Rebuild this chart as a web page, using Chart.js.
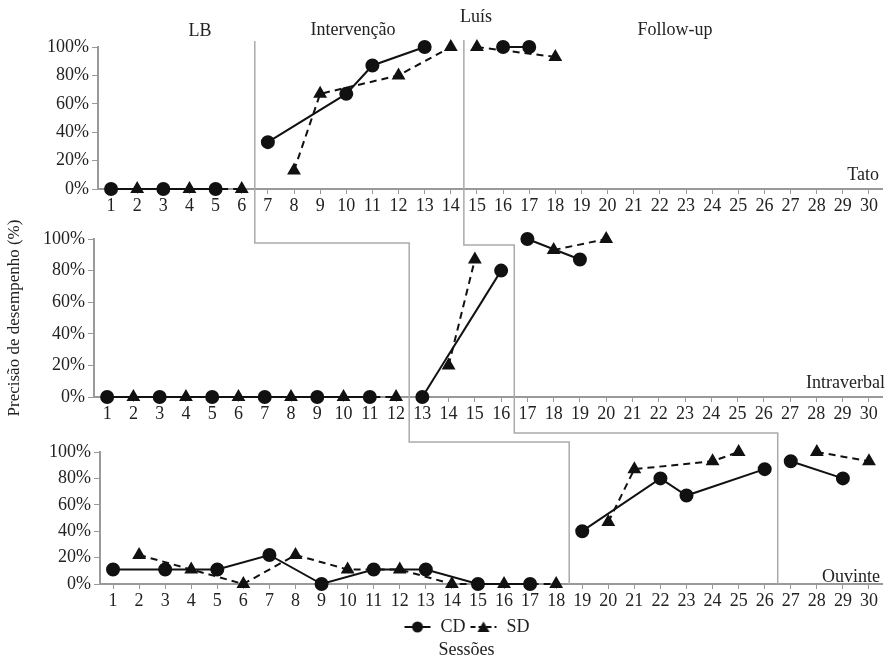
<!DOCTYPE html>
<html>
<head>
<meta charset="utf-8">
<script src="https://cdn.jsdelivr.net/npm/chart.js@4.4.0/dist/chart.umd.min.js"></script>
<style>
  body { margin: 0; background: #fff; }
  #wrap { position: relative; width: 890px; height: 657px; font-family: "Liberation Serif", "Times New Roman", serif; color: #222; }
  canvas { position: absolute; left: 0; }
  .lbl { position: absolute; font-size: 18px; line-height: 1; white-space: nowrap; transform: translateX(-50%); }
  .rt { position: absolute; font-size: 18px; line-height: 1; white-space: nowrap; transform: translateX(-100%); }
</style>
</head>
<body>
<div id="wrap">
  <canvas id="c1" width="890" height="216" style="top:0"></canvas>
  <canvas id="c2" width="890" height="210" style="top:216px"></canvas>
  <canvas id="c3" width="890" height="231" style="top:426px"></canvas>
  <canvas id="ov" width="890" height="657" style="top:0;pointer-events:none"></canvas>

  <div class="lbl" style="left:200px;top:21px">LB</div>
  <div class="lbl" style="left:353px;top:20px">Intervenção</div>
  <div class="lbl" style="left:476px;top:7px">Luís</div>
  <div class="lbl" style="left:675px;top:20px">Follow-up</div>
  <div class="rt" style="left:879px;top:165px">Tato</div>
  <div class="rt" style="left:885px;top:373px">Intraverbal</div>
  <div class="rt" style="left:880px;top:567px">Ouvinte</div>
</div>

<script>
// sessions 1..30
const sessions = ["1","2","3","4","5","6","7","8","9","10","11","12","13","14","15",
                  "16","17","18","19","20","21","22","23","24","25","26","27","28","29","30"];

// Tato
const tatoCD = [0,null,0,null,0,null,33,null,null,67,87,null,100,null,null,100,100,null,
                null,null,null,null,null,null,null,null,null,null,null,null];
const tatoSD = [null,0,null,0,null,0,null,13,67,null,null,80,null,100,100,null,null,93,
                null,null,null,null,null,null,null,null,null,null,null,null];
const tatoPhases = [6.5, 14.5];

// Intraverbal
const intraCD = [0,null,0,null,0,null,0,null,0,null,0,null,0,null,null,80,100,null,87,
                 null,null,null,null,null,null,null,null,null,null,null];
const intraSD = [null,0,null,0,null,0,null,0,null,0,null,0,null,20,87,null,null,93,null,100,
                 null,null,null,null,null,null,null,null,null,null];
const intraPhases = [12.5, 16.5];

// Ouvinte
const ouvCD = [11,null,11,null,11,null,22,null,0,null,11,null,11,null,0,null,0,null,40,
               null,null,80,67,null,null,87,93,null,80,null];
const ouvSD = [null,22,null,11,null,0,null,22,null,11,null,11,null,0,null,0,null,0,null,
               47,87,null,null,93,100,null,null,100,null,93];
const ouvPhases = [18.5, 26.5];

const FONT = "'Liberation Serif', 'Times New Roman', serif";
const INK = "#111";
const TXT = "#222";
const AXIS = "#999";

// split a series into one array per phase, so lines break at phase changes
function byPhase(data, phases) {
  const edges = [0, ...phases, 31];
  return edges.slice(1).map((hi, k) =>
    data.map((v, i) => (i + 1 > edges[k] && i + 1 < hi) ? v : null));
}

// small legend images: line with marker
function legendImg(style, dashed) {
  const c = document.createElement("canvas");
  c.width = 28; c.height = 14;
  const g = c.getContext("2d");
  g.strokeStyle = INK; g.fillStyle = INK; g.lineWidth = 2;
  if (dashed) g.setLineDash([5, 3]);
  g.beginPath(); g.moveTo(1, 7); g.lineTo(27, 7); g.stroke();
  g.beginPath();
  if (style === "circle") g.arc(14, 7, 5.5, 0, Math.PI * 2);
  else { g.moveTo(14, 1.5); g.lineTo(20, 12); g.lineTo(8, 12); g.closePath(); }
  g.fill();
  return c;
}

function makePanel(id, cd, sd, phases, opt) {
  const sets = [];
  byPhase(cd, phases).forEach(d => sets.push({
    label: "CD", data: d, borderColor: INK, backgroundColor: INK, borderWidth: 2,
    pointStyle: "circle", pointRadius: 6, spanGaps: true, clip: false }));
  byPhase(sd, phases).forEach(d => sets.push({
    label: "SD", data: d, borderColor: INK, backgroundColor: INK, borderWidth: 2, borderDash: [7, 5],
    pointStyle: "triangle", pointRadius: 6, spanGaps: true, clip: false }));

  return new Chart(document.getElementById(id), {
    type: "line",
    data: { labels: sessions, datasets: sets },
    options: {
      responsive: false,
      animation: false,
      layout: { padding: opt.padding },
      plugins: {
        legend: opt.legend || { display: false },
        title: opt.title || { display: false },
        tooltip: { enabled: false }
      },
      scales: {
        x: {
          offset: true,
          grid: { drawOnChartArea: false, offset: false, tickLength: 5, color: AXIS },
          border: { color: AXIS, width: 2 },
          ticks: { color: TXT, font: { size: 18, family: FONT }, padding: 1, maxRotation: 0, autoSkip: false },
          afterFit: s => { s.height = opt.xHeight || 26; }
        },
        y: {
          min: 0, max: 100,
          grid: { drawOnChartArea: false, tickLength: 6, color: AXIS },
          border: { color: AXIS, width: 2 },
          ticks: { stepSize: 20, color: TXT, font: { size: 18, family: FONT }, padding: 3, callback: v => v + "%" },
          title: opt.yTitle || { display: false },
          afterFit: s => { s.width = opt.yWidth; }
        }
      }
    }
  });
}

const c1 = makePanel("c1", tatoCD, tatoSD, tatoPhases,
  { padding: { top: 47, left: 48, right: 4, bottom: 1 }, yWidth: 50 });

const c2 = makePanel("c2", intraCD, intraSD, intraPhases,
  { padding: { top: 23, left: 0, right: 4, bottom: 3 }, yWidth: 94,
    yTitle: { display: true, text: "Precisão de desempenho (%)", color: TXT,
              font: { size: 17, family: FONT }, padding: { top: 4, bottom: 0 } } });

const c3 = makePanel("c3", ouvCD, ouvSD, ouvPhases,
  { padding: { top: 26, left: 50, right: 7, bottom: 0 }, yWidth: 50, xHeight: 30,
    legend: {
      display: true, position: "bottom",
      labels: {
        usePointStyle: true, pointStyleWidth: 28, padding: 4, color: TXT,
        font: { size: 18, family: FONT },
        generateLabels: () => [
          { text: "CD", pointStyle: legendImg("circle", false), fillStyle: INK, strokeStyle: INK,
            lineWidth: 0, fontColor: TXT, hidden: false },
          { text: "SD", pointStyle: legendImg("triangle", true), fillStyle: INK, strokeStyle: INK,
            lineWidth: 0, fontColor: TXT, hidden: false }
        ]
      }
    },
    title: { display: true, position: "bottom", text: "Sessões", color: TXT,
             font: { size: 18, family: FONT, weight: "normal", lineHeight: 1 }, padding: { top: -5, bottom: -2 } } });

// phase change lines, stepped across the three panels
const tops = [0, 216, 426];
const ov = document.getElementById("ov").getContext("2d");
const px = (ch, s) => ch.scales.x.getPixelForValue(s - 1);

function phaseLine(k, y0off, y1off, y2off) {
  const a1 = c1.chartArea, a2 = c2.chartArea, a3 = c3.chartArea;
  const x1 = px(c1, tatoPhases[k]), x2 = px(c2, intraPhases[k]), x3 = px(c3, ouvPhases[k]);
  const ya = tops[1] + a2.top + y1off, yb = tops[2] + a3.top + y2off;
  ov.beginPath();
  ov.moveTo(x1, tops[0] + a1.top + y0off);
  ov.lineTo(x1, ya);
  ov.lineTo(x2, ya);
  ov.lineTo(x2, yb);
  ov.lineTo(x3, yb);
  ov.lineTo(x3, tops[2] + a3.bottom);
  ov.stroke();
}
ov.strokeStyle = "#aaa";
ov.lineWidth = 1.5;
phaseLine(0, -6, 4, -10);
phaseLine(1, -7, 6, -19);
</script>
</body>
</html>
